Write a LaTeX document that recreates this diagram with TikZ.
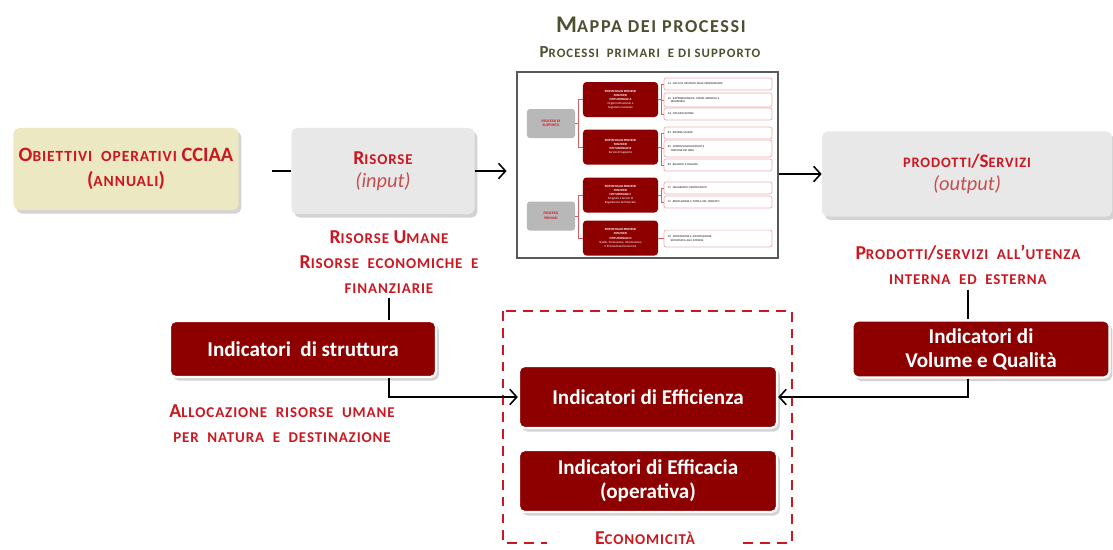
\documentclass[tikz,border=0pt]{standalone}
\usepackage{fontspec}
\setmainfont{Carlito}
\usetikzlibrary{arrows.meta,shadows}
\definecolor{cred}{RGB}{204,22,32}
\definecolor{dred}{RGB}{142,0,0}
\definecolor{lred}{RGB}{196,80,80}
\definecolor{cream}{RGB}{236,232,194}
\definecolor{pale}{RGB}{232,232,232}
\definecolor{olive}{RGB}{78,78,48}
\def\smcls{6}
\makeatletter
\newcommand\smc[1]{{\@tempdima=\f@size pt\@tempdima=.76\@tempdima\fontsize{\@tempdima}{\f@baselineskip}\selectfont\addfontfeature{LetterSpace=\smcls}#1}}
\makeatother

\begin{document}
\begin{tikzpicture}[x=0.025cm,y=-0.025cm,
	box/.style={rounded corners=4pt,inner sep=0,align=center,drop shadow={shadow xshift=2pt,shadow yshift=-2.5pt,opacity=.35}},
	ind/.style={box,fill=dred,draw=white,line width=1.6pt,text=white,font=\bfseries\fontsize{15}{17}\selectfont},
	lbl/.style={text=cred,align=center,font=\bfseries\fontsize{14}{17.7}\selectfont},
	ln/.style={line width=1.1pt},
	arr/.style={ln,-{Straight Barb[length=5pt,width=11pt]}},
	gbox/.style={fill=black!28,rounded corners=2pt,text=cred,align=center,inner sep=0,minimum width=1.2cm,minimum height=.725cm,font=\bfseries\fontsize{2.6}{3.2}\selectfont},
	pbox/.style={fill=dred,rounded corners=2.5pt,text=white,align=center,inner sep=0,minimum width=1.875cm,minimum height=.875cm,font=\bfseries\fontsize{2.2}{2.9}\selectfont},
	ibox/.style={draw=cred!35,line width=.5pt,fill=white,rounded corners=1.5pt,text=black!70,align=left,inner xsep=.1cm,inner ysep=1pt,text width=2.5cm,minimum height=.3cm,font=\bfseries\fontsize{2}{2.6}\selectfont},
	brk/.style={cred!70,line width=.5pt}]
	\useasboundingbox (0,0) rectangle (1113,549);
	\node[text=olive,font=\bfseries\fontsize{17}{19}\selectfont\def\smcls{9}] (title) at (651,25) {M\smc{APPA DEI PROCESSI}};
	\node[text=olive,font=\bfseries\fontsize{12}{14}\selectfont\def\smcls{8}] (sub) at (650,52) {P\smc{ROCESSI\ \ PRIMARI\ \ E DI SUPPORTO}};
	\node[box,fill=cream,minimum width=5.625cm,minimum height=2.05cm,lbl,font=\bfseries\fontsize{14.5}{17.5}\selectfont] (obj) at (126,169) {O\smc{BIETTIVI\ \ OPERATIVI} CCIAA\\(\smc{ANNUALI})};
	\node[box,fill=pale,minimum width=4.575cm,minimum height=2.15cm,lbl,font=\bfseries\fontsize{14}{16.3}\selectfont] (ris) at (383,171) {R\smc{ISORSE}\\{\mdseries\itshape\color{lred}\fontsize{14.5}{16.3}\selectfont(input)}};
	\node[box,fill=pale,minimum width=7.25cm,minimum height=2.125cm,lbl,font=\bfseries\fontsize{13.5}{17}\selectfont] (prod) at (967,174) {\smc{PRODOTTI}/S\smc{ERVIZI}\\{\mdseries\itshape\color{lred}\fontsize{14.5}{17}\selectfont(output)}};
	\node[draw=black!65,line width=.8pt,fill=white,minimum width=6.525cm,minimum height=4.65cm,inner sep=0] (map) at (647.5,165) {};
	\node[gbox] (sup) at (551,123.5) {PROCESSI DI\\SUPPORTO};
	\node[gbox] (pri) at (551,216) {PROCESSI\\PRIMARI};
	\node[pbox] (pA) at (620.5,99.5) {PORTAFOGLIO PROCESSI\\FUNZIONE\\ISTITUZIONALE A\\{\mdseries Organi Istituzionali e}\\{\mdseries Segreteria Generale}};
	\node[pbox] (pB) at (620.5,147) {PORTAFOGLIO PROCESSI\\FUNZIONE\\ISTITUZIONALE B\\{\mdseries Servizi di Supporto}};
	\node[pbox] (pC) at (620.5,195) {PORTAFOGLIO PROCESSI\\FUNZIONE\\ISTITUZIONALE C\\{\mdseries Anagrafe e Servizi di}\\{\mdseries Regolazione del Mercato}};
	\node[pbox] (pD) at (620.5,238) {PORTAFOGLIO PROCESSI\\FUNZIONE\\ISTITUZIONALE D\\{\mdseries Studio, Formazione, Informazione}\\{\mdseries E Promozione Economica}};
	\node[ibox] (a1) at (718,84) {A1\ \ CICLO DI GESTIONE DELLE PERFORMANCE};
	\node[ibox,minimum height=.35cm] (a2) at (718,100) {A2\ \ RAPPRESENTANZA, AFFARI GENERALI E\\\quad SEGRETERIA};
	\node[ibox] (a3) at (718,114) {A3\ \ COMUNICAZIONE};
	\node[ibox] (b1) at (718,133) {B1\ \ RISORSE UMANE};
	\node[ibox,minimum height=.42cm] (b2) at (718,148.5) {B2\ \ APPROVVIGIONAMENTO E\\\quad GESTIONE DEI BENI};
	\node[ibox] (b3) at (718,165) {B3\ \ BILANCIO E FINANZA};
	\node[ibox] (c1) at (718,188) {C1\ \ ANAGRAFICO CERTIFICATIVO};
	\node[ibox] (c2) at (718,202) {C2\ \ REGOLAZIONE E TUTELA DEL MERCATO};
	\node[ibox,minimum height=.42cm] (d1) at (718,238.5) {D1\ \ PROMOZIONE E INFORMAZIONE\\\quad ECONOMICA ALLE IMPRESE};
	\foreach \g/\p in {sup/pA,sup/pB,pri/pC,pri/pD}
		\draw[brk] (\g.east) -- ++(3,0) |- (\p.west);
	\foreach \p/\s in {pA/a1,pA/a2,pA/a3,pB/b1,pB/b2,pB/b3,pC/c1,pC/c2,pD/d1}
		\draw[brk] (\p.east) -- ++(3,0) |- (\s.west);
	\node[lbl] (risLbl) at (389,262) {R\smc{ISORSE} U\smc{MANE}\\R\smc{ISORSE\ \ ECONOMICHE\ \ E}\\\smc{FINANZIARIE}};
	\node[lbl] (prodLbl) at (968,265) {P\smc{RODOTTI}/\smc{SERVIZI\ \ ALL}’\smc{UTENZA}\\\smc{INTERNA\ \ ED\ \ ESTERNA}};
	\node[lbl] (allocLbl) at (282,424) {A\smc{LLOCAZIONE\ \ RISORSE\ \ UMANE}\\\smc{PER\ \ NATURA\ \ E\ \ DESTINAZIONE}};
	\draw[cred,line width=1.4pt,dash pattern=on 7pt off 5pt] (503,311) rectangle (792,543);
	\node[lbl,fill=white,minimum width=4.9cm,inner ysep=4pt] (econ) at (645,538) {E\smc{CONOMICITÀ}};
	\node[ind,minimum width=6.65cm,minimum height=1.4cm] (strutt) at (303,349) {Indicatori\ \ di struttura};
	\node[ind,minimum width=6.425cm,minimum height=1.425cm] (vol) at (981,349) {Indicatori di\\Volume e Qualità};
	\node[ind,minimum width=6.45cm,minimum height=1.55cm] (eff) at (648,397) {Indicatori di Efficienza};
	\node[ind,minimum width=6.45cm,minimum height=1.55cm] (efc) at (648,481) {Indicatori di Efficacia\\(operativa)};
	\coordinate (stub) at (272,171);
	\draw[ln] (stub) -- (ris.west);
	\draw[arr,shorten >=7pt] (ris.east) -- (ris.east -| map.west);
	\draw[arr] (map.east |- prod.west) -- (prod.west);
	\draw[ln] (risLbl.south) -- (risLbl.south |- strutt.north);
	\draw[ln] (prodLbl.south) -- (prodLbl.south |- vol.north);
	\draw[arr] (strutt.south -| risLbl.south) |- (eff.west);
	\draw[arr] (vol.south -| prodLbl.south) |- (eff.east);
\end{tikzpicture}
\end{document}
